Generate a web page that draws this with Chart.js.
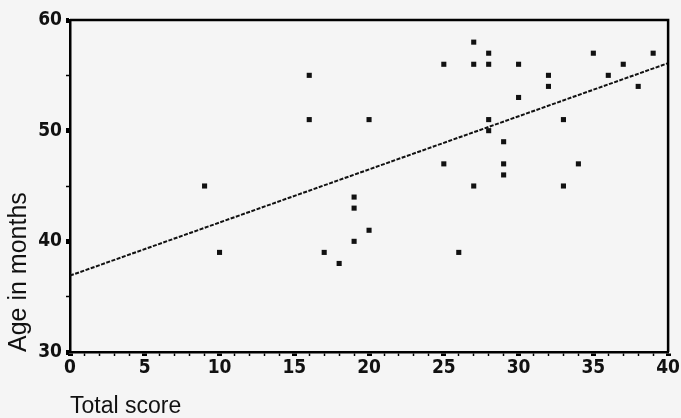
<!DOCTYPE html>
<html>
<head>
<meta charset="utf-8">
<script src="https://cdn.jsdelivr.net/npm/chart.js@4"></script>
<style>
  html, body { margin: 0; padding: 0; background: #f5f5f5; }
  canvas { display: block; }
</style>
</head>
<body>
<canvas id="scatterChart" width="681" height="418"></canvas>
<script>
// total score vs age, one point per child
const totalScore = [9, 10, 16, 16, 17, 18, 19, 19, 19, 20, 20, 25, 25, 26, 27, 27, 27, 28, 28, 28,
                    28, 29, 29, 29, 30, 30, 32, 32, 33, 33, 34, 35, 36, 37, 38, 39];
const ageMonths = [45, 39, 55, 51, 39, 38, 44, 43, 40, 51, 41, 56, 47, 39, 58, 56, 45, 57, 56, 51,
                   50, 49, 47, 46, 56, 53, 55, 54, 51, 45, 47, 57, 55, 56, 54, 57];

// fitted regression line, read at both ends of the axis
const fitScore = [0, 40];
const fitAge = [36.9, 56.1];

const xTickLabels = [0, 5, 10, 15, 20, 25, 30, 35, 40];
const yTickLabels = [30, 40, 50, 60];

const tickFont = { family: "'Liberation Sans Narrow', 'DejaVu Sans Condensed', 'Liberation Sans', sans-serif", size: 19, weight: 'bold' };
const titleFont = { family: "'Liberation Sans', Arial, sans-serif", size: 23, weight: 'normal', lineHeight: 1 };

const frame = {
  id: 'frame',
  beforeDraw(chart) {
    const ctx = chart.ctx;
    ctx.save();
    ctx.fillStyle = '#f5f5f5';
    ctx.fillRect(0, 0, chart.width, chart.height);
    ctx.restore();
  },
  afterDraw(chart) {
    const { left, top, right, bottom } = chart.chartArea;
    const ctx = chart.ctx;
    ctx.save();
    ctx.strokeStyle = '#000';
    ctx.lineWidth = 2.5;
    ctx.beginPath();
    ctx.moveTo(left, top);
    ctx.lineTo(right, top);
    ctx.lineTo(right, bottom);
    ctx.stroke();
    ctx.restore();
  }
};

const points = totalScore.map((s, i) => ({ x: s, y: ageMonths[i] }));
const fitLine = fitScore.map((s, i) => ({ x: s, y: fitAge[i] }));

new Chart(document.getElementById('scatterChart').getContext('2d'), {
  type: 'scatter',
  data: {
    datasets: [
      {
        label: 'Age in months',
        data: points,
        pointStyle: 'rect',
        pointRadius: 3.6,
        backgroundColor: '#111',
        borderColor: '#111',
        borderWidth: 0,
      },
      {
        type: 'line',
        label: 'Fit',
        data: fitLine,
        borderColor: '#111',
        borderWidth: 2,
        borderDash: [4, 1.5],
        pointRadius: 0,
        fill: false,
        tension: 0,
      },
    ],
  },
  options: {
    responsive: false,
    animation: false,
    layout: { padding: { top: 20, right: 9, left: 0, bottom: 0 } },
    plugins: {
      legend: { display: false },
      tooltip: { enabled: false },
    },
    scales: {
      x: {
        type: 'linear',
        min: 0,
        max: 40,
        afterFit: (scale) => { scale.height = 66; },
        border: { display: true, color: '#000', width: 2.5 },
        grid: {
          drawOnChartArea: false,
          drawTicks: true,
          tickLength: 4,
          tickColor: '#000',
          tickWidth: (ctx) => (xTickLabels.includes(ctx.tick.value) ? 5 : 1.5),
        },
        ticks: {
          stepSize: 1,
          autoSkip: false,
          maxRotation: 0,
          padding: 1,
          color: '#111',
          font: tickFont,
          callback: (v) => (xTickLabels.includes(v) ? v : ''),
        },
        title: {
          display: true,
          text: 'Total score',
          align: 'start',
          color: '#111',
          font: titleFont,
          padding: { top: 0, bottom: 0 },
        },
      },
      y: {
        type: 'linear',
        min: 30,
        max: 60,
        afterFit: (scale) => { scale.width = 70; },
        border: { display: true, color: '#000', width: 2.5 },
        grid: {
          drawOnChartArea: false,
          drawTicks: true,
          tickLength: 4,
          tickColor: '#000',
          tickWidth: (ctx) => (yTickLabels.includes(ctx.tick.value) ? 5 : 1.5),
        },
        ticks: {
          stepSize: 5,
          autoSkip: false,
          padding: 4,
          color: '#111',
          font: tickFont,
          callback: (v) => (yTickLabels.includes(v) ? v : ''),
        },
        title: {
          display: true,
          text: 'Age in months',
          align: 'start',
          color: '#111',
          font: { family: "'Liberation Sans', Arial, sans-serif", size: 25, weight: 'normal', lineHeight: 1 },
          padding: { top: 7, bottom: 0 },
        },
      },
    },
  },
  plugins: [frame],
});
</script>
</body>
</html>
